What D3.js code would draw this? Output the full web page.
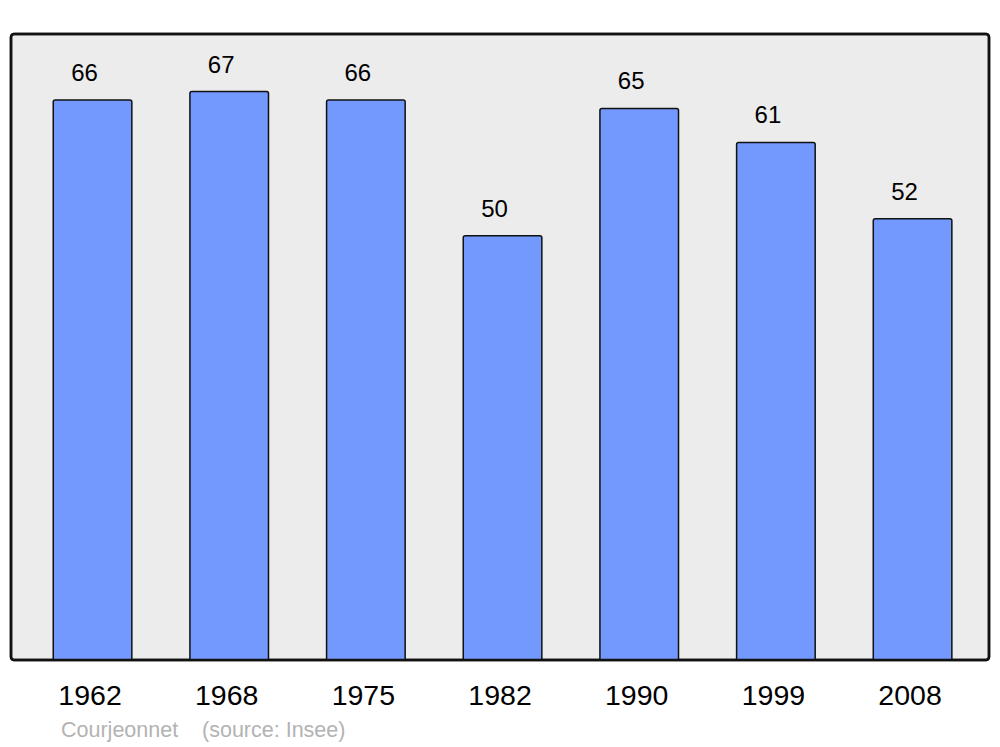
<!DOCTYPE html>
<html><head><meta charset="utf-8">
<script src="https://cdn.jsdelivr.net/npm/d3@7"></script>
<style>body{margin:0;background:#fff}svg{display:block}text{font-family:"Liberation Sans",Arial,sans-serif}</style>
</head><body>
<script>
const years = ["1962","1968","1975","1982","1990","1999","2008"];
const values = [66,67,66,50,65,61,52];
const place = "Courjeonnet";
const source = "(source: Insee)";

const W=1000,H=747;
const svg=d3.select("body").append("svg").attr("width",W).attr("height",H);
const panel={x0:11,x1:989,y0:34,y1:660};
svg.append("rect").attr("x",panel.x0).attr("y",panel.y0).attr("width",panel.x1-panel.x0).attr("height",panel.y1-panel.y0)
  .attr("rx",3).attr("fill","#ececec").attr("stroke","#111").attr("stroke-width",2.5);

const x=d3.scaleBand().domain(years).range([24.2,980.9]).paddingInner(0.425).paddingOuter(0.2125);
const y=d3.scaleLinear().domain([0,73.78]).range([660,34]);

const g=svg.append("g");
function barPath(x0,w,yt,yb,r){
  return `M${x0},${yb}V${yt+r}Q${x0},${yt} ${x0+r},${yt}H${x0+w-r}Q${x0+w},${yt} ${x0+w},${yt+r}V${yb}`;
}
years.forEach((yr,i)=>{
  const x0=x(yr), w=x.bandwidth(), yt=y(values[i]), yb=y(0);
  g.append("path").attr("d",barPath(x0,w,yt,yb,2)).attr("fill","#7399ff").attr("stroke","#111").attr("stroke-width",1.5);
  g.append("text").attr("x",x0+w/2-8).attr("y",yt-19).attr("text-anchor","middle").attr("font-size",24).attr("fill","#000").text(values[i]);
  g.append("text").attr("x",x0+w/2-2.5).attr("y",705).attr("text-anchor","middle").attr("font-size",28.5).attr("fill","#000").text(yr);
});
svg.append("rect").attr("x",panel.x0).attr("y",panel.y0).attr("width",panel.x1-panel.x0).attr("height",panel.y1-panel.y0)
  .attr("rx",3).attr("fill","none").attr("stroke","#111").attr("stroke-width",2.5);
svg.append("text").attr("x",61).attr("y",737).attr("font-size",21.5).attr("fill","#b3b3b3").attr("xml:space","preserve").text(place+"    "+source);
</script>
</body></html>
